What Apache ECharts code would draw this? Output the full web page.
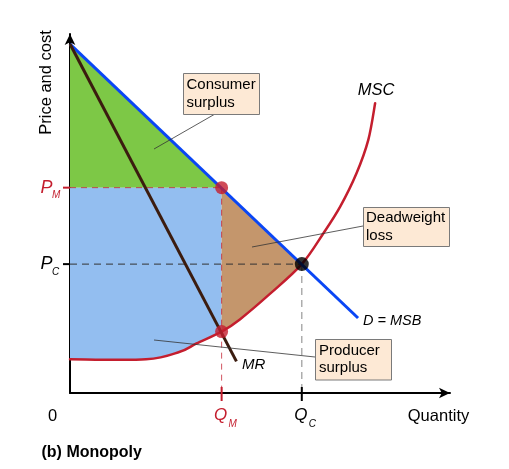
<!DOCTYPE html>
<html><head><meta charset="utf-8">
<script src="https://cdn.jsdelivr.net/npm/echarts@6.0.0/dist/echarts.min.js"></script>
<style>html,body{margin:0;padding:0;background:#fff}#c{width:509px;height:469px}</style>
</head><body><div id="c"></div>
<script>
// ---- Data (chart units: quantity 0-100, price 0-100) ----
const demandQ = [0, 75.8];
const demandP = [97.2, 20.9];
const mrQ = [0, 43.8];
const mrP = [97.2, 8.8];
const mscQ = [0, 20.0, 28.9, 33.3, 39.9, 44.7, 52.6, 61.0, 66.7, 71.1, 75.4, 78.5, 80.3];
const mscP = [9.4, 9.4, 11.5, 13.8, 17.1, 20.5, 27.6, 35.9, 44.5, 51.9, 61.2, 70.5, 80.7];
const QM = 39.9, QC = 61.0, PM = 57.2, PC = 35.9, MRatQM = 17.1;
const xTickValues = [QM, QC];
const xTickMain = ['Q', 'Q'];
const xTickSub = ['M', 'C'];
const yTickValues = [PM, PC];
const yTickMain = ['P', 'P'];
const yTickSub = ['M', 'C'];

// ---- Styles ----
const RED = '#c41e2e';
const FONT = 'Liberation Sans, Arial, sans-serif';

const pairs = (qs, ps) => qs.map((q, i) => [q, ps[i]]);
const msc = pairs(mscQ, mscP);
const iQM = mscQ.indexOf(QM), iQC = mscQ.indexOf(QC);

// smooth curve segment (Catmull-Rom -> cubic bezier) between pixel points i and j (adjacent)
function seg(px, i, j) {
  const n = px.length;
  const a = Math.min(i, j), b = Math.max(i, j);
  const p0 = px[Math.max(a - 1, 0)], p1 = px[a], p2 = px[b], p3 = px[Math.min(b + 1, n - 1)];
  const c1 = [p1[0] + (p2[0] - p0[0]) / 6, p1[1] + (p2[1] - p0[1]) / 6];
  const c2 = [p2[0] - (p3[0] - p1[0]) / 6, p2[1] - (p3[1] - p1[1]) / 6];
  if (i < j) return ` C ${c1[0]} ${c1[1]} ${c2[0]} ${c2[1]} ${p2[0]} ${p2[1]}`;
  return ` C ${c2[0]} ${c2[1]} ${c1[0]} ${c1[1]} ${p1[0]} ${p1[1]}`;
}
function curveD(px, from, to) {
  let d = '';
  if (from < to) for (let i = from; i < to; i++) d += seg(px, i, i + 1);
  else for (let i = from; i > to; i--) d += seg(px, i, i - 1);
  return d;
}
const P = (pt) => `${pt[0]} ${pt[1]}`;

function pathSeries(build, style, z) {
  return {
    type: 'custom', coordinateSystem: 'cartesian2d', data: [[0, 0]], silent: true, z: z,
    renderItem: (params, api) => {
      const px = msc.map(p => api.coord(p));
      return { type: 'path', shape: { pathData: build(api, px) }, style: style };
    }
  };
}
function lineSeries(data, color, width, type, z) {
  return { type: 'line', data, showSymbol: false, silent: true, z: z, lineStyle: { color, width, type } };
}

const chart = echarts.init(document.getElementById('c'), null, { renderer: 'canvas' });
chart.setOption({
  animation: false,
  grid: { left: 70, right: 59, top: 34, bottom: 76 },
  xAxis: {
    type: 'value', min: 0, max: 100,
    axisLine: { onZero: false, symbol: ['none', 'arrow'], symbolSize: [8, 11], lineStyle: { color: '#000', width: 2 } },
    axisTick: { show: false }, axisLabel: { show: false }, splitLine: { show: false }
  },
  yAxis: {
    type: 'value', min: 0, max: 100,
    axisLine: { onZero: false, symbol: ['none', 'arrow'], symbolSize: [8, 11], lineStyle: { color: '#000', width: 2 } },
    axisTick: { show: false }, axisLabel: { show: false }, splitLine: { show: false }
  },
  series: [
    // consumer surplus
    pathSeries((api) => 'M ' + P(api.coord([demandQ[0], demandP[0]])) + ' L ' + P(api.coord([QM, PM])) + ' L ' + P(api.coord([0, PM])) + ' Z',
      { fill: '#7dc846' }, 1),
    // producer surplus
    pathSeries((api, px) => 'M ' + P(api.coord([0, PM])) + ' L ' + P(api.coord([QM, PM])) + ' L ' + P(px[iQM]) + curveD(px, iQM, 0) + ' L ' + P(api.coord([0, mscP[0]])) + ' Z',
      { fill: '#93bef0' }, 1),
    // deadweight loss
    pathSeries((api, px) => 'M ' + P(api.coord([QM, PM])) + ' L ' + P(px[iQC]) + curveD(px, iQC, iQM) + ' Z',
      { fill: '#c4966c' }, 1),
    lineSeries([[0, PM], [QM, PM]], 'rgba(196,30,46,0.75)', 1, [6, 5], 3),
    lineSeries([[QM, PM], [QM, 0]], 'rgba(196,30,46,0.75)', 1, [6, 5], 3),
    lineSeries([[0, PC], [QC, PC]], '#333', 1, [7, 5], 3),
    lineSeries([[QC, PC], [QC, 0]], '#999', 1.2, [7, 5], 3),
    // MSC curve
    pathSeries((api, px) => 'M ' + P(px[0]) + curveD(px, 0, px.length - 1),
      { fill: 'none', stroke: RED, lineWidth: 2.5, lineCap: 'round' }, 4),
    lineSeries(pairs(demandQ, demandP), '#0a46f5', 3, 'solid', 5),
    lineSeries(pairs(mrQ, mrP), '#3b1c0f', 3, 'solid', 6),
    { type: 'scatter', data: [[QM, PM], [QM, MRatQM]], symbolSize: 13, itemStyle: { color: RED }, z: 8, silent: true },
    { type: 'scatter', data: [[QC, PC]], symbolSize: 14, itemStyle: { color: '#000' }, z: 8, silent: true },
    {
      type: 'custom', coordinateSystem: 'cartesian2d', silent: true, z: 9,
      data: xTickValues.map(v => [v, 0]),
      renderItem: (params, api) => {
        const i = params.dataIndex;
        const c = api.coord([api.value(0), 0]);
        const col = i === 0 ? RED : '#000';
        return { type: 'group', children: [
          { type: 'line', shape: { x1: c[0], y1: c[1] - 6, x2: c[0], y2: c[1] + 8 }, style: { stroke: col, lineWidth: 2 } },
          { type: 'text', style: { text: xTickMain[i], x: c[0] - 1, y: c[1] + 22, align: 'center', verticalAlign: 'middle', fontSize: 17, fontStyle: 'italic', fontFamily: FONT, fill: col } },
          { type: 'text', style: { text: xTickSub[i], x: c[0] + 7, y: c[1] + 31, align: 'left', verticalAlign: 'middle', fontSize: 10, fontStyle: 'italic', fontFamily: FONT, fill: col } }
        ] };
      }
    },
    {
      type: 'custom', coordinateSystem: 'cartesian2d', silent: true, z: 9,
      data: yTickValues.map(v => [0, v]),
      renderItem: (params, api) => {
        const i = params.dataIndex;
        const c = api.coord([0, api.value(1)]);
        const col = i === 0 ? RED : '#000';
        return { type: 'group', children: [
          { type: 'line', shape: { x1: c[0] - 7, y1: c[1], x2: c[0], y2: c[1] }, style: { stroke: col, lineWidth: 2 } },
          { type: 'text', style: { text: yTickMain[i], x: c[0] - 23.5, y: c[1], align: 'center', verticalAlign: 'middle', fontSize: 18, fontStyle: 'italic', fontFamily: FONT, fill: col } },
          { type: 'text', style: { text: yTickSub[i], x: c[0] - 18, y: c[1] + 8, align: 'left', verticalAlign: 'middle', fontSize: 10, fontStyle: 'italic', fontFamily: FONT, fill: col } }
        ] };
      }
    }
  ],
  graphic: [
    { type: 'text', x: 52.7, y: 416, style: { text: '0', align: 'center', verticalAlign: 'middle', fontSize: 16.5, fontFamily: FONT, fill: '#000' } },
    { type: 'text', x: 438.5, y: 416, style: { text: 'Quantity', align: 'center', verticalAlign: 'middle', fontSize: 16.5, fontFamily: FONT, fill: '#000' } },
    { type: 'text', x: 46, y: 82.5, rotation: Math.PI / 2, style: { text: 'Price and cost', align: 'center', verticalAlign: 'middle', fontSize: 16.5, fontFamily: FONT, fill: '#000' } },
    { type: 'text', x: 41.5, y: 453, style: { text: '(b) Monopoly', align: 'left', verticalAlign: 'middle', fontSize: 16, fontWeight: 'bold', fontFamily: FONT, fill: '#000' } },
    { type: 'text', x: 376, y: 90.7, style: { text: 'MSC', align: 'center', verticalAlign: 'middle', fontSize: 16.5, fontStyle: 'italic', fontFamily: FONT, fill: '#000' } },
    { type: 'text', x: 363, y: 321, style: { text: 'D = MSB', align: 'left', verticalAlign: 'middle', fontSize: 14.5, fontStyle: 'italic', fontFamily: FONT, fill: '#000' } },
    { type: 'text', x: 242, y: 365, style: { text: 'MR', align: 'left', verticalAlign: 'middle', fontSize: 15, fontStyle: 'italic', fontFamily: FONT, fill: '#000' } },
    // leader lines
    { type: 'line', z: 20, shape: { x1: 154, y1: 149, x2: 215, y2: 114 }, style: { stroke: '#333', lineWidth: 0.8 } },
    { type: 'line', z: 20, shape: { x1: 252, y1: 247, x2: 363, y2: 226 }, style: { stroke: '#333', lineWidth: 0.8 } },
    { type: 'line', z: 20, shape: { x1: 154, y1: 340, x2: 315, y2: 357 }, style: { stroke: '#333', lineWidth: 0.8 } },
    // boxes
    { type: 'rect', z: 21, shape: { x: 183.5, y: 73.5, width: 76, height: 41 }, style: { fill: '#fde9d5', stroke: '#7a7a7a', lineWidth: 1 } },
    { type: 'text', z: 22, x: 186.5, y: 94, style: { text: 'Consumer\nsurplus', align: 'left', verticalAlign: 'middle', lineHeight: 17.5, fontSize: 15, fontFamily: FONT, fill: '#000' } },
    { type: 'rect', z: 21, shape: { x: 363.5, y: 207.5, width: 86, height: 39 }, style: { fill: '#fde9d5', stroke: '#7a7a7a', lineWidth: 1 } },
    { type: 'text', z: 22, x: 366, y: 227, style: { text: 'Deadweight\nloss', align: 'left', verticalAlign: 'middle', lineHeight: 17.5, fontSize: 15, fontFamily: FONT, fill: '#000' } },
    { type: 'rect', z: 21, shape: { x: 315.5, y: 339.5, width: 76, height: 40.5 }, style: { fill: '#fde9d5', stroke: '#7a7a7a', lineWidth: 1 } },
    { type: 'text', z: 22, x: 319, y: 359.5, style: { text: 'Producer\nsurplus', align: 'left', verticalAlign: 'middle', lineHeight: 17.5, fontSize: 15, fontFamily: FONT, fill: '#000' } }
  ]
});
</script>
</body></html>
